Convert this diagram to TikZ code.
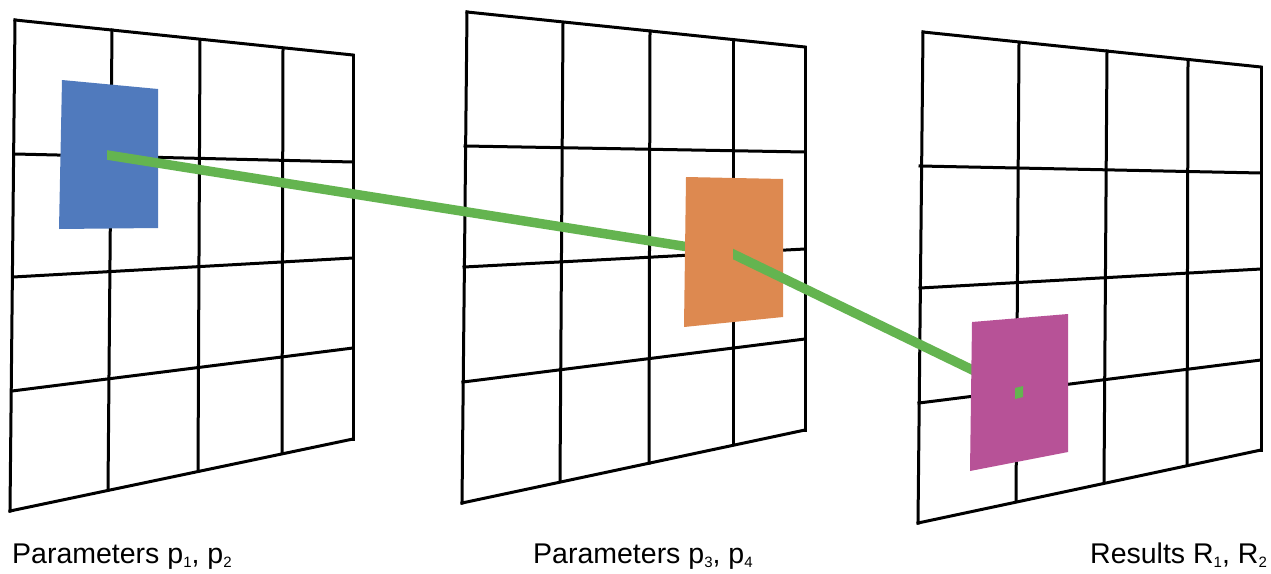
\documentclass[tikz,border=0pt]{standalone}
\usepackage{fontspec}
\setmainfont{Liberation Sans}
\usetikzlibrary{calc}
\newcommand\sbx[1]{\raisebox{-4.5pt}{\fontsize{15}{15}\selectfont #1}}
\definecolor{pblue}{RGB}{80,122,189}
\definecolor{porange}{RGB}{221,137,80}
\definecolor{pmag}{RGB}{183,82,151}
\definecolor{pgreen}{RGB}{100,180,80}
\tikzset{
  gridline/.style={draw=black, line width=3pt, line cap=rect, line join=miter},
  link/.style={draw=pgreen, line width=9.5pt, line cap=butt},
  lbl/.style={anchor=base west, inner sep=0pt, font=\fontsize{28.5}{28.5}\selectfont}
}
\begin{document}
\begin{tikzpicture}[x=1pt,y=-1pt]
\useasboundingbox (0,0) rectangle (1271,573);
\fill[white] (0,0) rectangle (1271,573);
% grid 1
\foreach \t/\b in {{15,20}/{10,511},{112,30}/{108,490},{200,40}/{198,471},{283,49}/{282,453},{353,55}/{353,439}}
  \draw[gridline] (\t) -- (\b);
\foreach \l/\r in {{15,20}/{353,55},{15,154}/{353,162},{13,277}/{353,258},{12,391}/{353,348},{10,511}/{353,439}}
  \draw[gridline] (\l) -- (\r);
% grid 2
\foreach \t/\b in {{467,12}/{462,503},{563,23}/{560,481},{650,31}/{649,463},{733,40}/{733,444},{805,47}/{805,430}}
  \draw[gridline] (\t) -- (\b);
\foreach \l/\r in {{467,12}/{805,47},{465,146}/{805,152},{464,267}/{805,249},{463,382}/{805,339},{462,503}/{805,430}}
  \draw[gridline] (\l) -- (\r);
% grid 3
\foreach \t/\b in {{923,32}/{918,523},{1019,43}/{1016,501},{1107,51}/{1104,482},{1188,60}/{1187,464},{1261,67}/{1261,450}}
  \draw[gridline] (\t) -- (\b);
\foreach \l/\r in {{923,32}/{1261,67},{920,166}/{1261,173},{920,288}/{1261,269},{919,403}/{1261,360},{918,523}/{1261,450}}
  \draw[gridline] (\l) -- (\r);
% points
\coordinate (pa) at (107,155);
\coordinate (pb) at (733,254);
\coordinate (pc) at (1018,392);
% blue
\fill[pblue] (62,80) -- (158,89) -- (158,228) -- (59,229) -- cycle;
\begin{scope}
  \clip (107,0) rectangle (1271,573);
  \draw[link] ($(pa)!-0.05!(pb)$) -- (pb);
\end{scope}
% orange
\fill[porange] (686,177) -- (783,179) -- (783,317) -- (684,327) -- cycle;
\begin{scope}
  \clip (733,0) rectangle (1271,573);
  \draw[link] ($(pb)!-0.1!(pc)$) -- (pc);
\end{scope}
% magenta
\fill[pmag] (972,322) -- (1068,314) -- (1068,452) -- (970,471) -- cycle;
\fill[pgreen] (1015,388) -- (1023,386) -- (1023,397) -- (1015,399) -- cycle;
% labels
\node[lbl] (l1) at (12,563) {Parameters p\sbx{1}, p\sbx{2}};
\node[lbl] (l2) at (533,563) {Parameters p\sbx{3}, p\sbx{4}};
\node[lbl] (l3) at (1090,563) {Results R\sbx{1}, R\sbx{2}};
\end{tikzpicture}
\end{document}
